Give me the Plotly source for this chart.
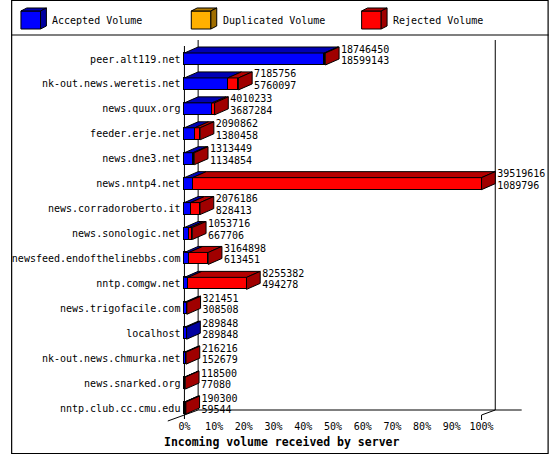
import plotly.graph_objects as go

# ---------------- data ----------------
servers = [
    "peer.alt119.net", "nk-out.news.weretis.net", "news.quux.org", "feeder.erje.net",
    "news.dne3.net", "news.nntp4.net", "news.corradoroberto.it", "news.sonologic.net",
    "newsfeed.endofthelinebbs.com", "nntp.comgw.net", "news.trigofacile.com", "localhost",
    "nk-out.news.chmurka.net", "news.snarked.org", "nntp.club.cc.cmu.edu",
]
total_volume = [18746450, 7185756, 4010233, 2090862, 1313449, 39519616, 2076186, 1053716,
                3164898, 8255382, 321451, 289848, 216216, 118500, 190300]
accepted_volume = [18599143, 5760097, 3687284, 1380458, 1134854, 1089796, 828413, 667706,
                   613451, 494278, 308508, 289848, 152679, 77080, 59544]
duplicated_volume = [0, 0, 0, 0, 0, 0, 0, 0, 0, 0, 0, 0, 0, 0, 0]
x_tick_values = [0, 10, 20, 30, 40, 50, 60, 70, 80, 90, 100]
x_tick_labels = ["0%", "10%", "20%", "30%", "40%", "50%", "60%", "70%", "80%", "90%", "100%"]
legend_names = ["Accepted Volume", "Duplicated Volume", "Rejected Volume"]
x_title = "Incoming volume received by server"

# ---------------- geometry / style ----------------
W, H = 550, 455
PL, PR, PT, PB = 150, 530, 36, 425          # plot area in px
X0PX, SX = 177, 3.035                        # px of 0 %, px per %
Y0PX, SY = 59, 24.93                         # px of first category, px per category
FONT = "DejaVu Sans Mono"

FRONT = ["#0000FF", "#FFB000", "#FF0000"]
TOP = ["#0000B4", "#B47C00", "#B40000"]
SIDE = ["#0000A0", "#A06E00", "#A00000"]


def fx(px):
    return (px - PL) / (PR - PL)


def fy(py):
    return (PB - py) / (PB - PT)


def dx_px(px):
    return px / SX


def dy_px(px):
    return px / SY


n = len(servers)
vmax = max(total_volume)
rejected_volume = [t - a - d for t, a, d in zip(total_volume, accepted_volume, duplicated_volume)]
series = [accepted_volume, duplicated_volume, rejected_volume]
pct = [[v / vmax * 100 for v in s] for s in series]
tot_pct = [v / vmax * 100 for v in total_volume]
ys = list(range(n))

bw = dy_px(12)
ddx, ddy = dx_px(14), dy_px(6)

fig = go.Figure()

# front faces: stacked horizontal bars
for k in range(3):
    fig.add_bar(y=ys, x=pct[k], orientation="h", width=bw, name=legend_names[k],
                marker=dict(color=FRONT[k], line=dict(color="black", width=1)),
                showlegend=False, hoverinfo="skip")

# 3D faces (top and side), computed from the data
tops = {k: ([], []) for k in range(3)}
sides = {k: ([], []) for k in range(3)}
for i in range(n):
    yt, yb = i - bw / 2, i + bw / 2
    x0 = 0.0
    last = None
    for k in range(3):
        w = pct[k][i]
        if w <= 0:
            continue
        x1 = x0 + w
        xs, yy = tops[k]
        xs += [x0, x1, x1 + ddx, x0 + ddx, x0, None]
        yy += [yt, yt, yt - ddy, yt - ddy, yt, None]
        last = (k, x1)
        x0 = x1
    if last:
        k, x1 = last
        xs, yy = sides[k]
        xs += [x1, x1 + ddx, x1 + ddx, x1, x1, None]
        yy += [yt, yt - ddy, yb - ddy, yb, yt, None]

for k in range(3):
    for faces, cols in ((tops, TOP), (sides, SIDE)):
        xs, yy = faces[k]
        if xs:
            fig.add_scatter(x=xs, y=yy, mode="lines", fill="toself", fillcolor=cols[k],
                            line=dict(color="black", width=1), showlegend=False,
                            hoverinfo="skip")

# value labels
lab_x = [t + ddx + dx_px(2) for t in tot_pct]
fig.add_scatter(x=lab_x, y=[i - dy_px(9) for i in ys], mode="text",
                text=[str(v) for v in total_volume], textposition="middle right",
                textfont=dict(family=FONT, size=10, color="black"),
                cliponaxis=False, showlegend=False, hoverinfo="skip")
fig.add_scatter(x=lab_x, y=[i + dy_px(2.5) for i in ys], mode="text",
                text=[str(v) for v in accepted_volume], textposition="middle right",
                textfont=dict(family=FONT, size=10, color="black"),
                cliponaxis=False, showlegend=False, hoverinfo="skip")

# ---------------- frame (3D axes) ----------------
shapes = []


def dline(x0, y0, x1, y1):
    shapes.append(dict(type="line", xref="x", yref="y", x0=x0, y0=y0, x1=x1, y1=y1,
                       line=dict(color="black", width=1), layer="below"))


fdx, fdy = dx_px(14), dy_px(5)
y_floor = (415 - Y0PX) / SY
y_top_back = (40 - Y0PX) / SY
y_top_front = (46 - Y0PX) / SY
dline(0, y_top_front, 0, y_floor + dy_px(4))                 # front vertical axis
dline(fdx, y_top_back, fdx, y_floor - fdy)                   # back-left wall
dline(fdx, y_floor - fdy, 100 + fdx + dx_px(27), y_floor - fdy)  # back floor line
dline(100 + fdx, y_top_back, 100 + fdx, y_floor - fdy)       # back-right wall
dline(-dx_px(17), y_floor + dy_px(6), fdx, y_floor - fdy)    # left floor diagonal
dline(100, y_floor, 100 + fdx, y_floor - fdy)                # right floor diagonal
dline(100, y_floor, 100, y_floor + dy_px(5))                 # right tick


def pline(x0, y0, x1, y1, w=1):
    shapes.append(dict(type="line", xref="paper", yref="paper", x0=fx(x0), y0=fy(y0),
                       x1=fx(x1), y1=fy(y1), line=dict(color="black", width=w)))


# outer border and legend separator
shapes.append(dict(type="rect", xref="paper", yref="paper", x0=fx(0.5), y0=fy(0.5),
                   x1=fx(548.5), y1=fy(453.5), line=dict(color="black", width=1.2)))
pline(0, 35, 549, 35, 1.2)

# legend boxes (3D)
annotations = []
leg_box_x = [10, 184, 358]
leg_txt_x = [40, 214, 388]


def ppath(pts):
    return "M " + " L ".join(f"{fx(a):.5f},{fy(b):.5f}" for a, b in pts) + " Z"


for k in range(3):
    bx = leg_box_x[k]
    shapes.append(dict(type="rect", xref="paper", yref="paper", x0=fx(bx), y0=fy(11),
                       x1=fx(bx + 20), y1=fy(29), fillcolor=FRONT[k],
                       line=dict(color="black", width=1)))
    shapes.append(dict(type="path", xref="paper", yref="paper",
                       path=ppath([(bx, 11), (bx + 20, 11), (bx + 26, 8), (bx + 6, 8)]),
                       fillcolor=TOP[k], line=dict(color="black", width=1)))
    shapes.append(dict(type="path", xref="paper", yref="paper",
                       path=ppath([(bx + 20, 11), (bx + 26, 8), (bx + 26, 26), (bx + 20, 29)]),
                       fillcolor=SIDE[k], line=dict(color="black", width=1)))
    annotations.append(dict(xref="paper", yref="paper", x=fx(leg_txt_x[k]), y=fy(20),
                            xanchor="left", yanchor="middle", showarrow=False,
                            text=legend_names[k],
                            font=dict(family=FONT, size=10, color="black")))

annotations.append(dict(xref="paper", yref="paper", x=fx(154), y=fy(442),
                        xanchor="left", yanchor="middle", showarrow=False,
                        text="<b>" + x_title + "</b>",
                        font=dict(family=FONT, size=11.5, color="black")))

fig.update_layout(
    width=W, height=H, autosize=False,
    margin=dict(l=PL, r=W - PR, t=PT, b=H - PB, pad=0),
    paper_bgcolor="white", plot_bgcolor="white",
    barmode="stack", bargap=0,
    showlegend=False,
    shapes=shapes, annotations=annotations,
    xaxis=dict(range=[(PL - X0PX) / SX, (PR - X0PX) / SX], anchor="free", position=fy(415),
               tickvals=x_tick_values, ticktext=x_tick_labels, ticks="", showline=False,
               showgrid=False, zeroline=False, ticklabelstandoff=4,
               tickfont=dict(family=FONT, size=10, color="black")),
    yaxis=dict(range=[(PB - Y0PX) / SY, (PT - Y0PX) / SY], anchor="free", position=fx(177),
               tickvals=ys, ticktext=servers, ticks="", showline=False, showgrid=False,
               zeroline=False, ticklabelstandoff=4,
               tickfont=dict(family=FONT, size=10, color="black")),
)

fig.write_html(
    "out.html",
    config={"displayModeBar": False},
    post_script="document.body.style.margin='0px';document.body.style.overflow='hidden';",
)
